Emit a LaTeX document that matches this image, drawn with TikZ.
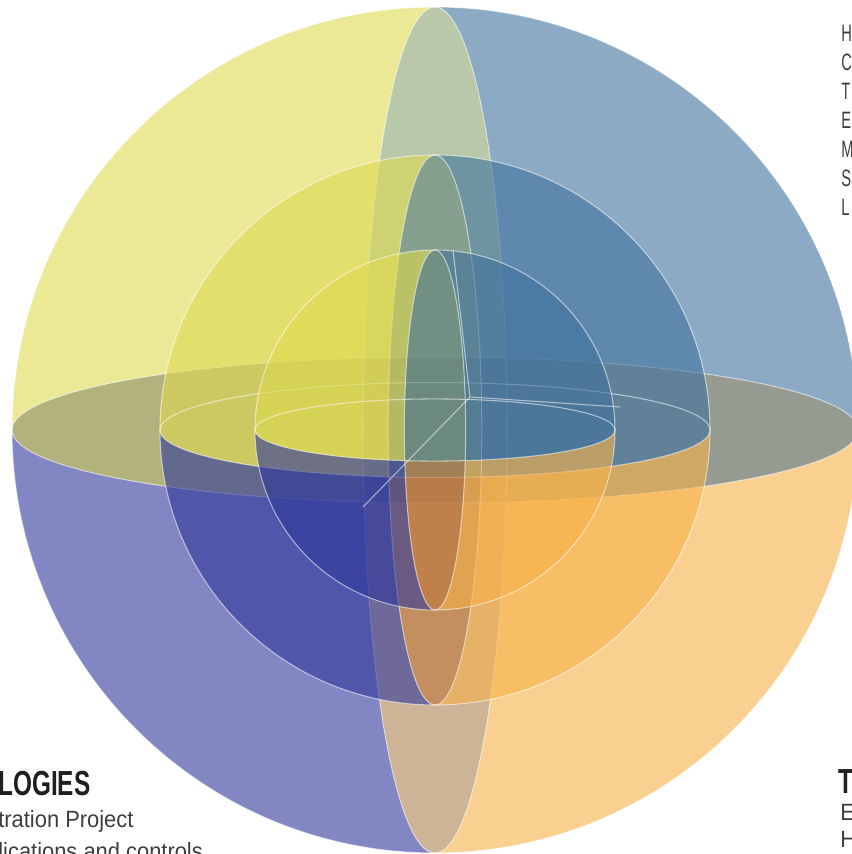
\documentclass[tikz,border=0pt]{standalone}
\usepackage{fontspec}
\setmainfont{Liberation Sans}
\newfontfamily\bodyfont{Liberation Sans}[FakeStretch=0.93]
\newfontfamily\listfont{Liberation Sans}[FakeStretch=0.62]
\newfontfamily\headfont{Liberation Sans}[FakeStretch=0.7]

\definecolor{yel}{RGB}{222,217,80}
\definecolor{blu}{RGB}{63,113,157}
\definecolor{pur}{RGB}{47,55,155}
\definecolor{ora}{RGB}{247,177,72}
\definecolor{topband}{RGB}{138,163,110}
\definecolor{botband}{RGB}{172,130,80}
\definecolor{topinner}{RGB}{100,135,125}
\definecolor{botinner}{RGB}{190,120,60}
\definecolor{leftband}{RGB}{127,127,38}
\definecolor{rightband}{RGB}{80,88,72}
\definecolor{core}{RGB}{80,80,63}
\definecolor{ink}{RGB}{62,62,62}

% the regions of one sphere, radius \r, equator height \ry, meridian width \mx
\tikzset{
  northcap/.style={insert path={(180:\r) arc[start angle=180,end angle=0,radius=\r]
      arc[start angle=0,end angle=180,x radius=\r,y radius=\ry] -- cycle}},
  southcap/.style={insert path={(180:\r) arc[start angle=180,end angle=360,radius=\r]
      arc[start angle=0,end angle=-180,x radius=\r,y radius=\ry] -- cycle}},
  westcap/.style={insert path={(90:\r) arc[start angle=90,end angle=270,radius=\r]
      arc[start angle=270,end angle=90,x radius=\mx,y radius=\r] -- cycle}},
  eastcap/.style={insert path={(90:\r) arc[start angle=90,end angle=-90,radius=\r]
      arc[start angle=-90,end angle=90,x radius=\mx,y radius=\r] -- cycle}},
  meridian/.style={insert path={(0,0) ellipse[x radius=\mx,y radius=\r]}},
  equator/.style={insert path={(0,0) ellipse[x radius=\r,y radius=\ry]}},
  shell/.style={fill opacity=0.6},
  rim/.style={draw=white,draw opacity=0.55,line width=0.6pt},
  listtext/.style={anchor=base west,inner sep=0pt,text=ink,font=\listfont\fontsize{13.5}{15}\selectfont},
  bodytext/.style={anchor=base west,inner sep=0pt,text=ink,font=\bodyfont\fontsize{13.4}{16}\selectfont},
  headtext/.style={anchor=base west,inner sep=0pt,text=black!88,font=\headfont\bfseries\fontsize{19.8}{22}\selectfont}
}

\begin{document}
\begin{tikzpicture}[x=2cm,y=2cm]
  \useasboundingbox (-4.35,-4.24) rectangle (4.17,4.30);

  % three nested spheres, outer one first
  \foreach \r/\tb/\bb/\lb/\rb/\cb in {4.23/topband/botband/leftband/rightband/core,
      2.75/topinner/botinner/yel/blu/topinner,1.80/topinner/botinner/yel/blu/topinner}{
    \pgfmathsetmacro\ry{\r*0.73/4.23}
    \pgfmathsetmacro\mx{\r*0.72/4.23}
    \foreach \clipzone/\fillzone/\tone in {northcap/westcap/yel,northcap/eastcap/blu,
        southcap/westcap/pur,southcap/eastcap/ora,northcap/meridian/\tb,
        southcap/meridian/\bb,equator/westcap/\lb,equator/eastcap/\rb,
        equator/meridian/\cb}{
      \begin{scope}
        \clip[\clipzone];
        \fill[shell,fill=\tone,\fillzone];
      \end{scope}
    }
    \draw[rim] (0,0) circle[radius=\r];
    \draw[rim] (0,0) ellipse[x radius=\r,y radius=\ry];
    \draw[rim] (0,0) ellipse[x radius=\mx,y radius=\r];
  }

  % cut through the core
  \coordinate (cut) at (0.35,0.33);
  \coordinate (cuttop) at (0.18,1.80);
  \coordinate (cutright) at (1.85,0.23);
  \coordinate (cutfront) at (-0.72,-0.77);
  \draw[rim] (cuttop) -- (cut) -- (cutright);
  \draw[rim] (cut) -- (cutfront);

  % text at the edges
  \foreach \l [count=\i] in {H,C,T,E,M,S,L}
    \node[listtext] (list\i) at (4.06,{3.88-0.29*(\i-1)}) {\l};

  \node[headtext] (headleft) at (-4.37,-3.65) {LOGIES};
  \node[bodytext] (leftone) at (-4.37,-3.97) {tration Project};
  \node[bodytext] (lefttwo) at (-4.37,-4.29) {lications and controls};

  \node[headtext] (headright) at (4.03,-3.63) {T};
  \node[bodytext] (rightone) at (4.05,-3.90) {E};
  \node[bodytext] (righttwo) at (4.05,-4.17) {H};
\end{tikzpicture}
\end{document}
